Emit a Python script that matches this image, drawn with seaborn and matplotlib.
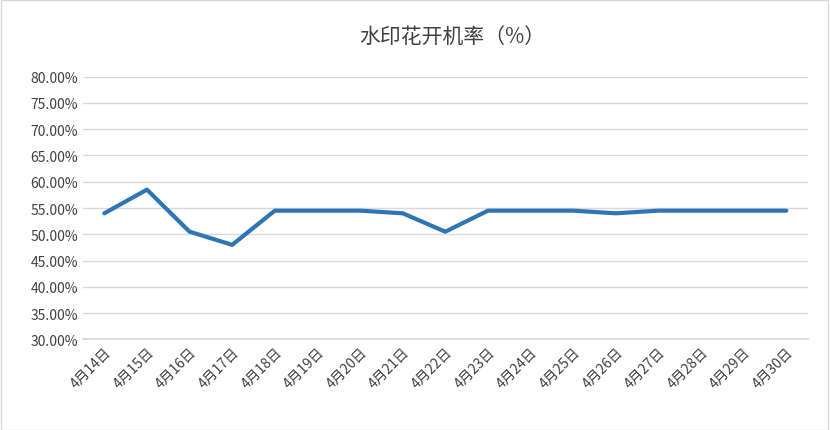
import matplotlib
matplotlib.use("Agg")
import matplotlib.pyplot as plt
import matplotlib.ticker as mticker
import pandas as pd
import seaborn as sns

dates = ["4月14日", "4月15日", "4月16日", "4月17日", "4月18日", "4月19日", "4月20日",
         "4月21日", "4月22日", "4月23日", "4月24日", "4月25日", "4月26日", "4月27日",
         "4月28日", "4月29日", "4月30日"]
rates = [54.0, 58.5, 50.5, 48.0, 54.5, 54.5, 54.5, 54.0, 50.5, 54.5, 54.5, 54.5,
         54.0, 54.5, 54.5, 54.5, 54.5]

df = pd.DataFrame({"idx": range(len(dates)), "rate": rates})

sns.set_theme(style="white")
plt.rcParams["font.family"] = ["Noto Sans CJK SC", "DejaVu Sans"]

fig = plt.figure(figsize=(8.3, 4.31), dpi=100)
ax = fig.add_axes([0.1, 0.21, 0.873, 0.61])
sns.lineplot(data=df, x="idx", y="rate", color="#2E75B6", linewidth=3, ax=ax)

ax.set_ylim(30, 80)
ax.set_yticks([30 + 5 * i for i in range(11)])
ax.yaxis.set_major_formatter(mticker.FuncFormatter(lambda v, _: f"{v:.2f}%"))
ax.set_xlim(-0.5, len(dates) - 0.5)
ax.set_xticks(range(len(dates)))
ax.set_xticklabels(dates, rotation=45, ha="right", rotation_mode="anchor")
ax.tick_params(axis="both", labelsize=10, colors="#404040", length=0)
ax.grid(axis="y", color="#D9D9D9", linewidth=1)
for s in ["top", "right", "left"]:
    ax.spines[s].set_visible(False)
ax.spines["bottom"].set_color("#D9D9D9")
ax.set_xlabel("")
ax.set_ylabel("")
fig.text(0.545, 0.915, "水印花开机率（%）", ha="center", va="center", fontsize=15, color="#404040")

border = plt.Rectangle((0.001, 0.001), 0.997, 0.997, transform=fig.transFigure,
                       fill=False, edgecolor="#D9D9D9", linewidth=1)
fig.patches.append(border)
fig.savefig("out.png", dpi=100)
